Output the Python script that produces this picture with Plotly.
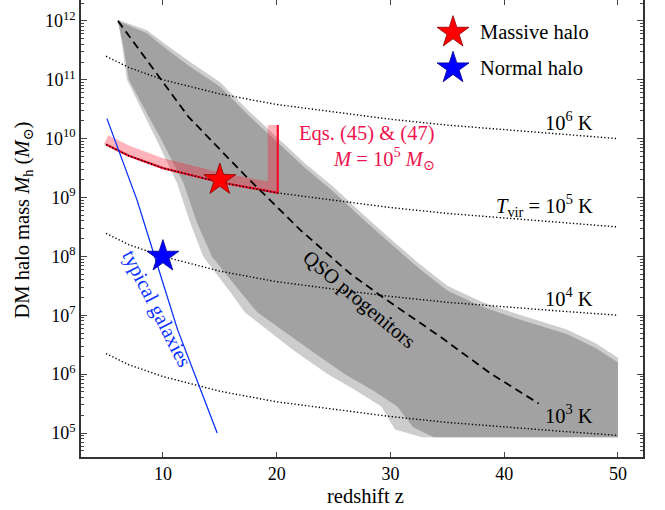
import plotly.graph_objects as go

# ---------------- data ----------------
# Tvir = const lines: log10(M) at these redshifts
tvir_z = [5, 7, 10, 15, 20, 25, 30, 35, 40, 45, 50]
tvir_1e6_logM = [11.40, 11.21, 11.00, 10.76, 10.58, 10.45, 10.33, 10.23, 10.15, 10.08, 10.00]
tvir_1e5_logM = [9.90, 9.71, 9.50, 9.26, 9.08, 8.95, 8.83, 8.73, 8.65, 8.58, 8.50]
tvir_1e4_logM = [8.39, 8.20, 8.00, 7.75, 7.57, 7.44, 7.32, 7.22, 7.14, 7.07, 7.00]
tvir_1e3_logM = [6.35, 6.16, 5.96, 5.71, 5.53, 5.40, 5.28, 5.18, 5.10, 5.03, 4.96]
tvir_labels = ["10<sup>6</sup> K", "<i>T</i><sub>vir</sub> = 10<sup>5</sup> K",
               "10<sup>4</sup> K", "10<sup>3</sup> K"]
tvir_label_logM = [10.30, 8.87, 7.31, 5.33]

# progenitor band (many merger-tree histories): dense core outline
core_z = [6.05, 8.6, 10.05, 12.4, 15.03, 17.5, 20.0, 22.5, 25.0, 27.5, 30.0, 32.5, 35.0,
          38.0, 41.0, 43.5, 45.5, 48.0, 50.0, 50.0,
          33.8, 32.0, 30.6, 28.5, 26.0, 23.0, 20.8, 18.3, 16.8, 14.3, 13.0, 11.8, 9.9, 8.0, 7.0, 6.5, 6.05]
core_logM = [12.0, 11.79, 11.56, 11.22, 10.88, 10.40, 9.95, 9.50, 9.10, 8.65, 8.22, 7.80, 7.42,
             7.15, 6.95, 6.80, 6.68, 6.45, 6.20, 4.93,
             4.93, 5.1, 5.45, 5.72, 6.0, 6.4, 6.7, 7.05, 7.4, 8.0, 8.57, 9.25, 9.97, 10.65, 11.0, 11.6, 12.0]
# light outer fringe of the band
fringe_z = [6.05, 8.6, 10.05, 12.4, 15.03, 17.5, 20.0, 22.5, 25.0, 27.5, 30.0, 32.5, 35.0,
            38.0, 41.0, 43.5, 45.5, 48.0, 50.0, 50.0,
            32.8, 30.4, 29.2, 27.0, 24.5, 21.5, 19.5, 17.2, 15.9, 13.54, 12.4, 11.23, 9.47, 7.72, 6.84, 6.4, 6.05]
fringe_logM = [12.02, 11.84, 11.63, 11.3, 10.96, 10.48, 10.03, 9.58, 9.18, 8.73, 8.30, 7.88, 7.50,
               7.23, 7.03, 6.88, 6.76, 6.53, 6.28, 4.93,
               4.93, 5.06, 5.45, 5.72, 6.0, 6.4, 6.7, 7.05, 7.4, 8.0, 8.57, 9.25, 9.97, 10.65, 11.0, 11.6, 12.0]

# QSO progenitors (dashed)
qso_z = [6.05, 9.68, 11.17, 12.25, 17.2, 22.07, 26.45, 29.37, 34.35, 38.74, 43.04]
qso_logM = [12.0, 11.05, 10.65, 10.37, 9.38, 8.45, 7.71, 7.30, 6.64, 6.02, 5.50]

# typical galaxies (blue)
gal_z = [5.08, 7.72, 11.28, 14.77]
gal_logM = [10.34, 8.96, 6.76, 5.0]

# Eqs. (45) & (47), M = 1e5 Msun
eq_z = [5, 7, 10, 15, 20.1, 20.1]
eq_logM = [9.90, 9.71, 9.50, 9.26, 9.08, 10.23]
eq_band_z = [5, 7, 10, 15, 19.65, 19.65]
eq_band_logM = [9.98, 9.79, 9.58, 9.34, 9.17, 10.23]

# halos (stars)
halo_names = ["Massive halo", "Normal halo"]
halo_z = [15, 10]
halo_M = [2e9, 1e8]
halo_colors = ["#ff0000", "#0000ff"]
halo_edges = ["#8a0000", "#00008a"]

ytick_exp = [5, 6, 7, 8, 9, 10, 11, 12]
xtick_vals = [10, 20, 30, 40, 50]

# ---------------- figure ----------------
P = lambda v: [10 ** a for a in v]
FONT = "Liberation Serif, Times New Roman, DejaVu Serif, serif"
TS = 20.5   # text size
fig = go.Figure()

fig.add_trace(go.Scatter(x=fringe_z, y=P(fringe_logM), mode="lines", fill="toself",
                         fillcolor="#cdcdcd", line=dict(width=0), hoverinfo="skip", showlegend=False))
fig.add_trace(go.Scatter(x=core_z, y=P(core_logM), mode="lines", fill="toself",
                         fillcolor="#a2a2a2", line=dict(width=0), hoverinfo="skip", showlegend=False))

fig.add_trace(go.Scatter(x=eq_band_z, y=P(eq_band_logM), mode="lines",
                         line=dict(color="rgba(255,20,40,0.32)", width=10), showlegend=False))
fig.add_trace(go.Scatter(x=eq_z, y=P(eq_logM), mode="lines",
                         line=dict(color="#f0102e", width=2.2), showlegend=False))

for lm in [tvir_1e6_logM, tvir_1e5_logM, tvir_1e4_logM, tvir_1e3_logM]:
    fig.add_trace(go.Scatter(x=tvir_z, y=P(lm), mode="lines",
                             line=dict(color="black", width=1.4, dash="1.3px,2.2px"), showlegend=False))

fig.add_trace(go.Scatter(x=qso_z, y=P(qso_logM), mode="lines",
                         line=dict(color="black", width=1.8, dash="8px,5px"), showlegend=False))
fig.add_trace(go.Scatter(x=gal_z, y=P(gal_logM), mode="lines",
                         line=dict(color="#0a32ff", width=1.3), showlegend=False))

for n, zz, mm, c, ec in zip(halo_names, halo_z, halo_M, halo_colors, halo_edges):
    fig.add_trace(go.Scatter(x=[zz], y=[mm], mode="markers", name=n, showlegend=False,
                             marker=dict(symbol="star", size=24, color=c, line=dict(color=ec, width=0.8))))

# manual legend on a hidden overlay axis (paper-like units)
leg_y = [0.929, 0.851]
for n, c, ec, ly in zip(halo_names, halo_colors, halo_edges, leg_y):
    fig.add_trace(go.Scatter(x=[0.662], y=[ly], xaxis="x2", yaxis="y2", mode="markers",
                             marker=dict(symbol="star", size=24, color=c, line=dict(color=ec, width=0.8)),
                             showlegend=False, hoverinfo="skip"))
    fig.add_annotation(x=0.706, y=ly, xref="x2", yref="y2", text=n, showarrow=False,
                       xanchor="left", yanchor="middle", font=dict(family=FONT, size=TS, color="black"))

# labels
for t, lm in zip(tvir_labels, tvir_label_logM):
    fig.add_annotation(x=47.95, y=lm, text=t, showarrow=False, xanchor="right", yanchor="middle",
                       font=dict(family=FONT, size=TS, color="black"))
fig.add_annotation(x=34.08, y=10.09, text="Eqs. (45) &amp; (47)", showarrow=False, xanchor="right",
                   yanchor="middle", font=dict(family=FONT, size=TS, color="#ee1450"))
fig.add_annotation(x=34.08, y=9.67, text="<i>M</i> = 10<sup>5</sup> <i>M</i><sub>⊙</sub>", showarrow=False,
                   xanchor="right", yanchor="middle", font=dict(family=FONT, size=TS, color="#ee1450"))
fig.add_annotation(x=27.23, y=7.26, text="QSO progenitors", showarrow=False, textangle=40,
                   font=dict(family=FONT, size=TS, color="black"))
fig.add_annotation(x=9.45, y=7.12, text="typical galaxies", showarrow=False, textangle=63,
                   font=dict(family=FONT, size=TS, color="#0a32ff"))

# axis titles
fig.add_annotation(x=0.507, y=-0.086, xref="paper", yref="paper", text="redshift z", showarrow=False,
                   xanchor="center", yanchor="middle", font=dict(family=FONT, size=TS, color="black"))
fig.add_annotation(x=-0.102, y=0.519, xref="paper", yref="paper", textangle=-90,
                   text="DM halo mass <i>M</i><sub>h</sub> (<i>M</i><sub>⊙</sub>)", showarrow=False,
                   xanchor="center", yanchor="middle", font=dict(family=FONT, size=TS, color="black"))

minor_vals = [m * 10 ** e for e in range(4, 13) for m in range(2, 10)]

fig.update_layout(
    width=665, height=510,
    margin=dict(l=81, r=22, t=0, b=53, autoexpand=False),
    plot_bgcolor="white", paper_bgcolor="white",
    font=dict(family=FONT, size=18, color="black"),
    xaxis=dict(range=[2.8, 52.2], tickvals=xtick_vals, ticks="inside", ticklen=5, tickwidth=1,
               showline=True, linecolor="#333", linewidth=1.5, mirror="ticks", showgrid=False,
               zeroline=False, tickfont=dict(family=FONT, size=18), automargin=False),
    yaxis=dict(type="log", range=[4.593, 12.355], tickvals=[10 ** e for e in ytick_exp],
               ticktext=["10<sup>%d</sup>" % e for e in ytick_exp],
               ticks="inside", ticklen=6, tickwidth=1, showline=True, linecolor="#333", linewidth=1.5,
               mirror="ticks", showgrid=False, zeroline=False, tickfont=dict(family=FONT, size=18),
               minor=dict(tickvals=minor_vals, ticks="inside", ticklen=3, tickwidth=1, showgrid=False),
               automargin=False),
    xaxis2=dict(range=[0, 1], overlaying="x", visible=False),
    yaxis2=dict(range=[0, 1], overlaying="y", visible=False),
    showlegend=False,
)

fig.write_html("out.html", config={"displayModeBar": False},
               post_script="document.body.style.margin='0px';")
